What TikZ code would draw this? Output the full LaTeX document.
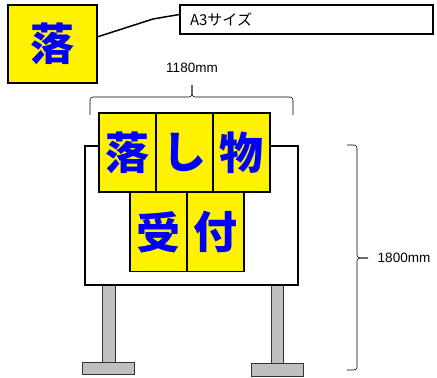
\documentclass[tikz,border=0pt]{standalone}
\usepackage{fontspec}
\setmainfont{Liberation Sans}
\newfontfamily\cjk{Noto Sans CJK JP}
\usetikzlibrary{positioning,calc}

\begin{document}
\begin{tikzpicture}[x=1pt,y=-1pt,
    panel/.style={draw,line width=1.5pt,fill=yellow,minimum width=57pt,minimum height=79pt,
      inner sep=0pt,outer sep=0pt,text=blue,font=\cjk\bfseries\fontsize{44}{44}\selectfont},
    post/.style={draw=black!80,fill=black!25,line width=0.8pt},
    dim/.style={font=\fontsize{13.5}{13.5}\selectfont,inner sep=0pt},
    brace/.style={line width=0.6pt,rounded corners=3pt}]
    \useasboundingbox (0,0) rectangle (437,378);

    % legs and feet
    \draw[post] (102,284) rectangle (115,362);
    \draw[post] (82,362) rectangle (134,374);
    \draw[post] (271,284) rectangle (283,363);
    \draw[post] (251,363) rectangle (303,376);

    % board
    \node[draw,line width=2pt,fill=white,minimum width=213pt,minimum height=139pt] (board) at (191.5,215.5) {};

    % panels
    \node[panel] (ochi) at (127.5,152.5) {落};
    \node[panel,right=0pt of ochi] (shi) {し};
    \node[panel,right=0pt of shi] (mono) {物};
    \node[panel] (uke) at (158.5,232) {受};
    \node[panel,right=0pt of uke] (tsuke) {付};

    % sample sheet
    \node[panel,minimum width=89pt,minimum height=78pt] (sample) at (52.5,44) {落};
    \node[draw,line width=1.5pt,minimum width=247pt,minimum height=29pt,text width=233pt,
      align=left,inner xsep=10pt,font=\cjk\fontsize{15}{15}\selectfont] (size) at (306.5,19.5) {A3サイズ};
    \draw[line width=1.5pt] ($ (sample.east)+(0,-7) $) -- (153,19) -- ($ (size.west)+(0,-5) $);

    % width
    \draw[brace] (90,115) -- (90,97) -- (192,97) -- (192,85);
    \draw[brace] (293,115) -- (293,97) -- (192,97) -- (192,85);
    \node[dim] (wlabel) at (192,68) {1180mm};

    % height
    \draw[brace] (347,145) -- (357,145) -- (357,258) -- (368,258);
    \draw[brace] (347,370) -- (357,370) -- (357,258) -- (368,258);
    \node[dim] (hlabel) at (404,258) {1800mm};
\end{tikzpicture}
\end{document}
